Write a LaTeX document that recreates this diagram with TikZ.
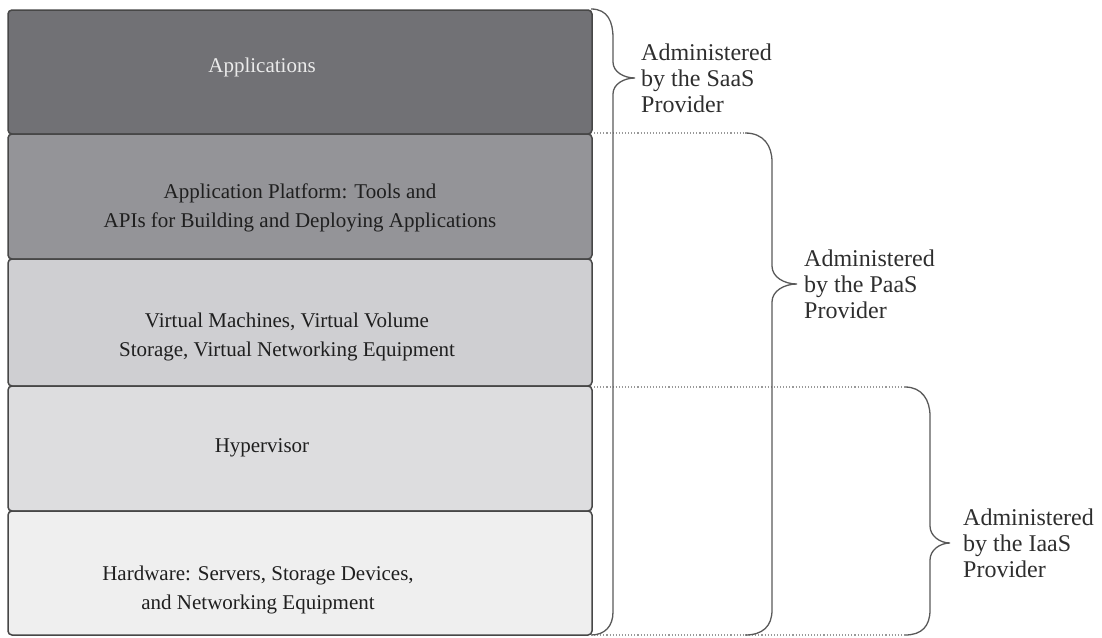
\documentclass[tikz,border=0pt]{standalone}
\usepackage{fontspec}
\setmainfont{Liberation Serif}
\begin{document}
\begin{tikzpicture}[x=1pt,y=-1pt,
  layer/.style={draw=black!72, line width=1.5pt, rounded corners=4pt},
  boxtext/.style={align=center, font=\fontsize{21}{28.5}\selectfont, text=black!88},
  lbl/.style={align=left, anchor=west, font=\fontsize{24}{26}\selectfont, text=black!82, inner sep=0pt},
  brace/.style={draw=black!65, line width=1.3pt},
  guide/.style={draw=black!40, line width=1.1pt, dotted}
]
\useasboundingbox (0,0) rectangle (1102,637);
\definecolor{cApp}{HTML}{717175}
\definecolor{cPlat}{HTML}{949498}
\definecolor{cVM}{HTML}{CFCFD2}
\definecolor{cHyp}{HTML}{DDDDDF}
\definecolor{cHw}{HTML}{EFEFEF}
% layers
\draw[layer, fill=cApp]  (8,10)  rectangle (592,134);
\draw[layer, fill=cPlat] (8,134) rectangle (592,259);
\draw[layer, fill=cVM]   (8,259) rectangle (592,386);
\draw[layer, fill=cHyp]  (8,386) rectangle (592,511);
\draw[layer, fill=cHw]   (8,511) rectangle (592,635);
\node[boxtext, text=black!8] (tApp) at (262,67) {Applications};
\node[boxtext] (tPlat) at (300,208) {Application Platform: Tools and\\APIs for Building and Deploying Applications};
\node[boxtext] (tVM) at (287,337) {Virtual Machines, Virtual Volume\\Storage, Virtual Networking Equipment};
\node[boxtext] (tHyp) at (262,448) {Hypervisor};
\node[boxtext] (tHw) at (258,590) {Hardware: Servers, Storage Devices,\\and Networking Equipment};
% dotted guides
\coordinate (g1a) at (594,133); \coordinate (g1b) at (745,133);
\coordinate (g2a) at (594,387); \coordinate (g2b) at (905,387);
\coordinate (g3a) at (594,635); \coordinate (g3b) at (905,635);
\draw[guide] (g1a) -- (g1b);
\draw[guide] (g2a) -- (g2b);
\draw[guide] (g3a) -- (g3b);
% SaaS brace
\coordinate (sTip) at (635,78);
\draw[brace] (591,9) .. controls (608,9) and (613,22) .. (613,38) -- (613,62)
  .. controls (613,72) and (624,78) .. (sTip)
  .. controls (624,78) and (613,84) .. (613,94) -- (613,612)
  .. controls (613,626) and (605,635) .. (591,635);
% PaaS brace
\coordinate (pTip) at (797,284);
\draw[brace] (745,133) .. controls (764,133) and (772,146) .. (772,162) -- (772,266)
  .. controls (772,277) and (784,284) .. (pTip)
  .. controls (784,284) and (772,291) .. (772,302) -- (772,610)
  .. controls (772,626) and (763,635) .. (745,635);
% IaaS brace
\coordinate (iTip) at (950,543);
\draw[brace] (905,387) .. controls (922,387) and (930,400) .. (930,416) -- (930,526)
  .. controls (930,536) and (940,543) .. (iTip)
  .. controls (940,543) and (930,550) .. (930,560) -- (930,610)
  .. controls (930,626) and (922,635) .. (905,635);
% labels
\node[lbl] (lS) at (641,78) {Administered\\by the SaaS\\Provider};
\node[lbl] (lP) at (804,284) {Administered\\by the PaaS\\Provider};
\node[lbl] (lI) at (963,543) {Administered\\by the IaaS\\Provider};
\end{tikzpicture}
\end{document}
